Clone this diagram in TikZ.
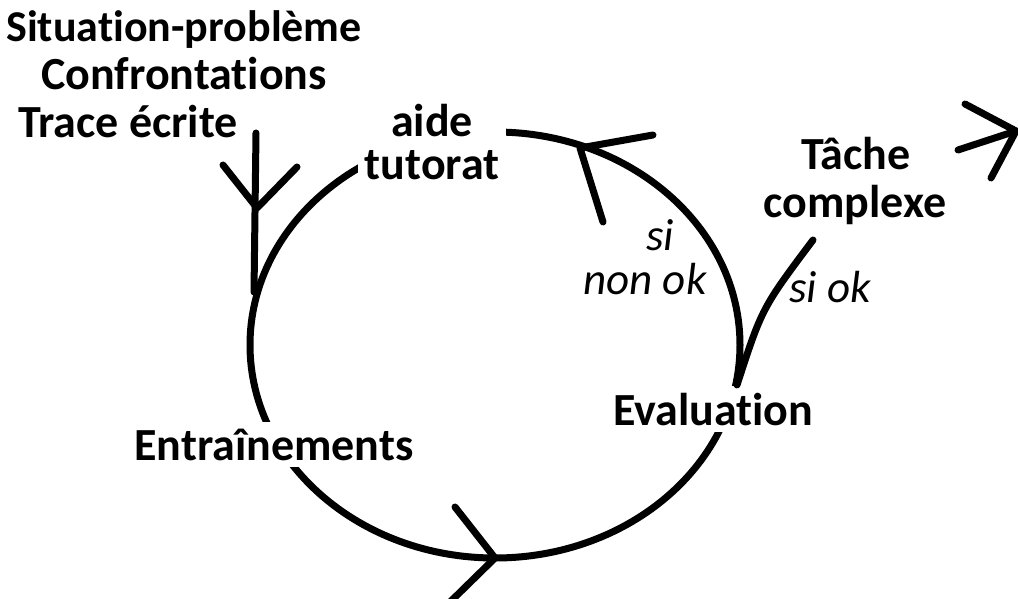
\documentclass[tikz,border=0pt]{standalone}
\usepackage{fontspec}
\setmainfont{Carlito}[Ligatures=NoCommon]

\begin{document}
\begin{tikzpicture}[x=1pt,y=-1pt]
      \tikzstyle{trait}=[line width=7pt,line cap=round,line join=round]
      \tikzstyle{texte}=[font=\fontsize{46}{48}\selectfont\bfseries,anchor=base,inner sep=0pt]
      \tikzstyle{etape}=[texte,fill=white,inner sep=7pt]
      \tikzstyle{cond}=[font=\fontsize{45}{46}\selectfont\itshape,anchor=base,inner sep=0pt]
      \useasboundingbox (0,0) rectangle (1018,599);
      % le cycle
      \draw[trait] (495,345) ellipse [x radius=245pt, y radius=213pt];
      \node[texte,font=\fontsize{44}{48}\selectfont\bfseries] (situation) at (184,42) {Situation-problème};
      \node[texte] (confront) at (184,90) {Confrontations};
      \node[texte] (trace) at (128,138) {Trace écrite};
      \node[etape,anchor=center,align=center,font=\fontsize{46}{43}\selectfont\bfseries] (aide) at (432,142) {aide\\tutorat};
      \node[etape] (entrain) at (274,460) {Entraînements};
      \node[etape] (eval) at (713,425) {Evaluation};
      \node[texte] (tache) at (856,170) {Tâche};
      \node[texte] (complexe) at (855,217) {complexe};
      \node[cond] (si) at (660,250) {si};
      \node[cond] (nonok) at (645,294) {non ok};
      \node[cond] (siok) at (830,302) {si ok};
      % entree
      \coordinate (depart) at (256,133);
      \coordinate (arrivee) at (254,292);
      \draw[trait] (depart) -- (arrivee);
      \draw[trait] (223,165) -- (257,208) -- (297,167);
      % fleches du cycle
      \draw[trait] (653,135) -- (580,148) -- (603,222);
      \draw[trait] (455,507) -- (495,558) -- (448,604);
      % sortie
      \coordinate (okbas) at (737,385);
      \coordinate (okhaut) at (813,240);
      \draw[trait] (okbas) .. controls (762,308) .. (okhaut);
      \draw[trait] (958,150) -- (1016,131);
      \draw[trait] (965,104) -- (1016,131) -- (991,178);
\end{tikzpicture}
\end{document}
